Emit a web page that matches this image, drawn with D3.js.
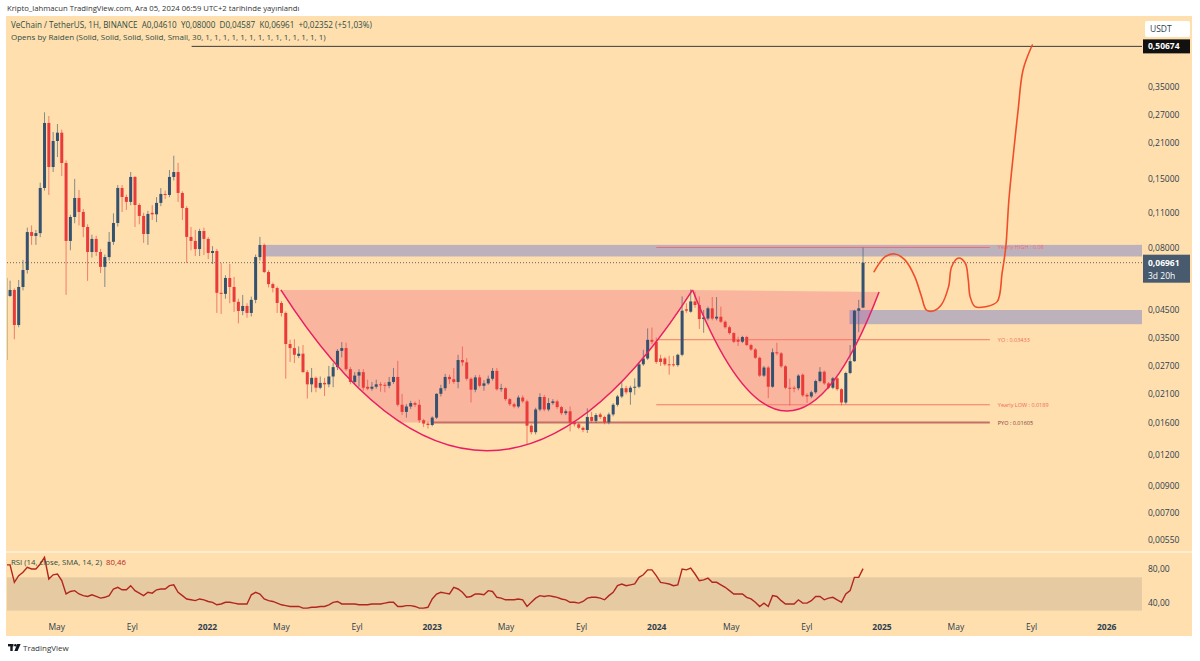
<!DOCTYPE html>
<html>
<head>
<meta charset="utf-8">
<script src="https://cdn.jsdelivr.net/npm/d3@7"></script>
<style>
  body { margin: 0; background: #fff; }
  svg { display: block; font-family: "Open Sans", "DejaVu Sans", sans-serif; }
</style>
</head>
<body>
<svg id="chart" width="1200" height="661"></svg>
<script>
// weekly VET/USDT candles, first bar = week of 2021-02-08
const firstWeek = "2021-02-08"

const opens = [.0285,.0513,.0542,.0393,.0557,.0651,.0922,.0890,.0913,.1382,
.2509,.1675,.2127,.2295,.1738,.0850,.1059,.1261,.1109,.0966,
.0768,.0866,.0768,.0670,.0733,.0843,.1002,.1382,.1272,.1216,
.1529,.1182,.1069,.0906,.1100,.1085,.1205,.1308,.1296,.1529,
.1600,.1320,.1150,.0882,.0850,.0789,.0931,.0866,.0761,.0775,
.0528,.0523,.0605,.0557,.0486,.0447,.0468,.0439,.0495,.0733,
.0819,.0639,.0572,.0552,.0481,.0439,.0330,.0318,.0296,.0302,
.0255,.0228,.0242,.0221,.0231,.0228,.0245,.0267,.0310,.0318,
.0262,.0233,.0247,.0255,.0223,.0219,.0223,.0228,.0227,.0225,
.0233,.0244,.0189,.0177,.0186,.0192,.0189,.0164,.0159,.0157,
.0168,.0209,.0220,.0244,.0239,.0233,.0285,.0279,.0240,.0217,
.0243,.0225,.0230,.0240,.0258,.0218,.0220,.0199,.0190,.0186,
.0202,.0195,.0156,.0147,.0181,.0203,.0181,.0192,.0195,.0185,
.0175,.0178,.0161,.0158,.0153,.0150,.0169,.0163,.0173,.0169,
.0161,.0173,.0189,.0204,.0220,.0212,.0221,.0223,.0274,.0289,
.0343,.0337,.0289,.0289,.0274,.0274,.0272,.0299,.0454,.0444,
.0488,.0472,.0415,.0417,.0458,.0417,.0424,.0405,.0385,.0365,
.0343,.0337,.0352,.0327,.0314,.0291,.0247,.0266,.0223,.0306,
.0303,.0269,.0221,.0221,.0220,.0249,.0207,.0204,.0212,.0235,
.0256,.0230,.0221,.0241,.0218,.0193,.0253,.0282,.0448,.0461]

const highs = [.0620,.0590,.0550,.0594,.0714,.0960,.0980,.0940,.1450,.2767,
.2674,.2310,.2485,.2360,.1780,.1080,.1502,.1357,.1140,.0990,
.0900,.0890,.0790,.0750,.0922,.1095,.1420,.1420,.1300,.1600,
.1540,.1200,.1100,.1120,.1180,.1270,.1380,.1350,.1630,.1858,
.1740,.1340,.1170,.0966,.0940,.0950,.0960,.0880,.0810,.0790,
.0694,.0620,.0688,.0611,.0500,.0518,.0480,.0510,.0750,.0882,
.0830,.0650,.0580,.0560,.0490,.0445,.0343,.0345,.0323,.0327,
.0260,.0265,.0245,.0245,.0242,.0270,.0277,.0315,.0336,.0334,
.0267,.0255,.0262,.0262,.0238,.0233,.0238,.0233,.0232,.0244,
.0265,.0283,.0209,.0190,.0196,.0195,.0198,.0166,.0162,.0170,
.0210,.0227,.0251,.0249,.0265,.0299,.0323,.0290,.0243,.0248,
.0249,.0237,.0247,.0265,.0265,.0229,.0222,.0201,.0193,.0206,
.0206,.0198,.0158,.0184,.0210,.0207,.0201,.0199,.0198,.0187,
.0181,.0186,.0163,.0160,.0155,.0183,.0177,.0175,.0176,.0171,
.0176,.0192,.0207,.0233,.0225,.0225,.0241,.0278,.0313,.0381,
.0384,.0350,.0299,.0293,.0296,.0296,.0302,.0511,.0480,.0545,
.0533,.0511,.0451,.0465,.0508,.0508,.0465,.0410,.0390,.0368,
.0353,.0356,.0356,.0331,.0318,.0294,.0270,.0270,.0317,.0334,
.0307,.0272,.0240,.0225,.0250,.0252,.0210,.0215,.0238,.0267,
.0259,.0233,.0244,.0244,.0220,.0256,.0327,.0452,.0495,.0800]

const lows = [.0280,.0509,.0345,.0385,.0540,.0630,.0820,.0820,.0880,.1350,
.1296,.1600,.1835,.1543,.0518,.0780,.1000,.0980,.0880,.0589,
.0730,.0740,.0633,.0557,.0710,.0820,.0970,.1109,.1130,.1180,
.0966,.0990,.0835,.0820,.1030,.1010,.1170,.1250,.1270,.1480,
.1216,.1030,.0694,.0780,.0740,.0740,.0747,.0720,.0688,.0439,
.0435,.0500,.0480,.0443,.0399,.0430,.0420,.0425,.0480,.0710,
.0633,.0555,.0530,.0439,.0425,.0240,.0280,.0277,.0290,.0254,
.0200,.0212,.0212,.0218,.0205,.0222,.0222,.0260,.0292,.0258,
.0228,.0228,.0223,.0215,.0216,.0215,.0219,.0213,.0212,.0220,
.0229,.0186,.0172,.0168,.0182,.0185,.0160,.0154,.0152,.0155,
.0166,.0204,.0215,.0229,.0229,.0220,.0270,.0236,.0193,.0212,
.0222,.0215,.0227,.0236,.0215,.0213,.0196,.0187,.0183,.0183,
.0192,.0131,.0144,.0144,.0178,.0178,.0178,.0189,.0182,.0172,
.0172,.0148,.0155,.0151,.0147,.0146,.0160,.0160,.0166,.0158,
.0158,.0170,.0186,.0201,.0208,.0189,.0207,.0220,.0270,.0285,
.0330,.0275,.0270,.0270,.0249,.0268,.0268,.0295,.0440,.0440,
.0460,.0379,.0366,.0410,.0410,.0410,.0400,.0380,.0360,.0333,
.0324,.0333,.0324,.0310,.0288,.0244,.0244,.0201,.0221,.0298,
.0265,.0218,.0188,.0212,.0216,.0203,.0192,.0201,.0209,.0232,
.0227,.0218,.0218,.0215,.0188,.0190,.0250,.0280,.0368,.04587]

const closes = [.0605,.0542,.0393,.0557,.0651,.0922,.0890,.0913,.1382,.2509,
.1675,.2127,.2295,.1738,.0850,.1059,.1261,.1109,.0966,.0768,
.0866,.0768,.0670,.0733,.0843,.1002,.1382,.1272,.1216,.1529,
.1182,.1069,.0906,.1089,.1085,.1205,.1308,.1296,.1529,.1600,
.1320,.1150,.0882,.0850,.0789,.0931,.0866,.0761,.0775,.0528,
.0523,.0605,.0557,.0486,.0447,.0468,.0439,.0495,.0733,.0819,
.0639,.0572,.0552,.0481,.0439,.0330,.0318,.0299,.0302,.0255,
.0228,.0242,.0221,.0231,.0228,.0245,.0267,.0310,.0318,.0262,
.0233,.0247,.0255,.0221,.0219,.0223,.0228,.0226,.0225,.0233,
.0244,.0189,.0177,.0186,.0192,.0189,.0164,.0159,.0157,.0168,
.0209,.0220,.0244,.0239,.0233,.0285,.0279,.0240,.0217,.0243,
.0225,.0230,.0240,.0258,.0218,.0220,.0199,.0190,.0186,.0202,
.0195,.0156,.0147,.0181,.0203,.0181,.0192,.0195,.0185,.0175,
.0178,.0161,.0158,.0153,.0150,.0169,.0163,.0172,.0169,.0161,
.0173,.0189,.0204,.0220,.0212,.0221,.0223,.0274,.0289,.0343,
.0337,.0280,.0280,.0274,.0272,.0272,.0299,.0448,.0448,.0488,
.0472,.0415,.0421,.0458,.0417,.0424,.0405,.0385,.0365,.0337,
.0337,.0352,.0327,.0314,.0291,.0247,.0266,.0223,.0306,.0303,
.0269,.0221,.0220,.0220,.0247,.0206,.0204,.0212,.0235,.0256,
.0230,.0221,.0241,.0218,.0193,.0253,.0282,.0448,.0458,.06961]

const rsiValues = [85,85,64,72,76,82,80,80,86,94,
68,73,74,66,50,53,54,50,48,47,
49,47,45,46,48,56,58,55,55,60,
54,51,48,52,51,55,56,56,60,61,
52,48,44,43,42,44,43,41,40,37,
38,40,40,39,38,38,38,49,52,50,
44,42,41,39,37,36,35,35,35,33,
33,34,34,35,35,37,40,41,38,38,
38,38,37,37,37,38,38,38,39,40,
40,35,35,36,36,35,33,33,34,44,
50,52,51,50,58,56,52,46,47,50,
50,49,54,53,46,45,43,43,43,44,
43,35,40,45,48,47,48,47,46,44,
43,40,40,39,41,45,46,46,45,43,
48,52,60,62,60,61,62,70,73,79,
79,72,64,63,62,60,61,80,79,81,
74,66,67,69,64,64,61,58,54,50,
50,50,46,44,40,35,39,35,48,47,
42,38,38,38,43,39,39,42,47,47,
43,45,46,43,40,50,54,70,70,80.46]

// axis ticks
const priceTicks = [0.35, 0.27, 0.21, 0.15, 0.11, 0.08, 0.045, 0.035, 0.027, 0.021, 0.016, 0.012, 0.009, 0.007, 0.0055]
const rsiTicks = [80, 40]
const timeTicks = ["2021-05-01","2021-09-01","2022-01-01","2022-05-01","2022-09-01","2023-01-01","2023-05-01","2023-09-01","2024-01-01","2024-05-01","2024-09-01","2025-01-01","2025-05-01","2025-09-01","2026-01-01"]
const timeLabels = ["May","Eyl","2022","May","Eyl","2023","May","Eyl","2024","May","Eyl","2025","May","Eyl","2026"]

// yearly level lines (indicator "Opens by Raiden")
const levelNames = ["Yearly HIGH : 0.08", "YO : 0.03433", "Yearly LOW : 0.0189", "PYO : 0.01605"]
const levelPrices = [0.08, 0.03433, 0.0189, 0.01605]
const levelStarts = ["2024-01-01", "2024-01-01", "2024-01-01", "2023-01-01"]
const levelEnd = "2025-06-26"

// drawn zones
const zoneStarts = ["2022-04-04", "2024-11-10"]
const zoneTops = [0.0820, 0.0451]
const zoneBottoms = [0.0737, 0.0396]

// cup arcs: [start, bottom, end] dates and rim/bottom prices
const cupDates = [["2022-05-01", "2023-04-01", "2024-02-29"], ["2024-02-29", "2024-07-31", "2024-12-28"]]
const cupPrices = [[0.0542, 0.01239, 0.0542], [0.0542, 0.01784, 0.0532]]

// hand drawn projection
const sketchDates = ["2024-12-20","2025-01-07","2025-01-23","2025-02-08","2025-02-24","2025-03-07","2025-03-15","2025-03-26","2025-04-08","2025-04-20","2025-04-25","2025-05-06","2025-05-17","2025-05-22","2025-05-25","2025-06-02","2025-06-19","2025-07-08","2025-07-16","2025-07-22","2025-07-27","2025-08-04","2025-08-11","2025-08-19","2025-09-03"]
const sketchPrices = [0.0641,0.0736,0.0754,0.0714,0.0613,0.0510,0.0451,0.0447,0.0472,0.0559,0.0671,0.0727,0.0694,0.0594,0.0510,0.0465,0.0465,0.0487,0.0634,0.0806,0.1238,0.1958,0.2826,0.408,0.513]

const targetPrice = 0.50674
const targetStart = "2021-12-07"
const lastPrice = 0.06961

// ---- layout
const plot = {left: 7, right: 1142, top: 16, bottom: 552}
const rsiPane = {top: 552, bottom: 615}
const bg = "#ffdfae"
const upColor = "#34526f"
const downColor = "#ea3b3b"
const axisColor = "#2c3e50"

const parseDate = d3.utcParse("%Y-%m-%d")

const x = d3.scaleUtc()
    .domain([parseDate("2022-01-01"), parseDate("2025-01-01")])
    .range([207, 881.5])
const y = d3.scaleLog().domain([0.35, 0.0055]).range([86.7, 539.3])
const yRsi = d3.scaleLinear().domain([80, 40]).range([569, 602.3])

const start = parseDate(firstWeek)
const candles = opens.map((o, i) => ({
    date: d3.utcDay.offset(start, i * 7),
    open: o, high: highs[i], low: lows[i], close: closes[i], rsi: rsiValues[i]
}))

const svg = d3.select("#chart")

// panel background
svg.append("rect")
    .attr("x", 6).attr("y", 16)
    .attr("width", 1186).attr("height", 620)
    .attr("fill", bg)

const defs = svg.append("defs")
defs.append("clipPath").attr("id", "priceClip").append("rect")
    .attr("x", plot.left).attr("y", plot.top)
    .attr("width", plot.right - plot.left).attr("height", plot.bottom - plot.top)
defs.append("clipPath").attr("id", "rsiClip").append("rect")
    .attr("x", plot.left).attr("y", rsiPane.top)
    .attr("width", plot.right - plot.left).attr("height", rsiPane.bottom - rsiPane.top)
defs.append("clipPath").attr("id", "cupClip").append("rect")
    .attr("x", plot.left).attr("y", plot.top)
    .attr("width", plot.right - plot.left).attr("height", y(levelPrices[3]) - plot.top)

const price = svg.append("g").attr("clip-path", "url(#priceClip)")

// cup arc as quadratic bezier with vertex at the bottom point
const cupPath = (dates, prices, close) => {
    const x0 = x(parseDate(dates[0])), y0 = y(prices[0])
    const xv = x(parseDate(dates[1])), yv = y(prices[1])
    const x2 = x(parseDate(dates[2])), y2 = y(prices[2])
    const cy = 2 * yv - (y0 + y2) / 2
    const cx = 2 * xv - (x0 + x2) / 2
    return `M${x0},${y0} Q${cx},${cy} ${x2},${y2}` + (close ? " Z" : "")
}

price.append("g").attr("clip-path", "url(#cupClip)")
    .selectAll("path")
    .data(cupDates)
    .join("path")
    .attr("d", (d, i) => cupPath(d, cupPrices[i], true))
    .attr("fill", "#e91e63")
    .attr("fill-opacity", 0.21)

// zones
price.selectAll("rect.zone")
    .data(zoneStarts)
    .join("rect")
    .attr("class", "zone")
    .attr("x", d => x(parseDate(d)))
    .attr("y", (d, i) => y(zoneTops[i]))
    .attr("width", d => plot.right - x(parseDate(d)))
    .attr("height", (d, i) => y(zoneBottoms[i]) - y(zoneTops[i]))
    .attr("fill", "#3d5bd9")
    .attr("fill-opacity", 0.34)

// level lines
const levelColors = ["#f06a7a", "#f3786a", "#f3786a", "#c27068"]
const levelText = ["#f06a7a", "#f06a5a", "#f06a5a", "#7d3b3b"]
price.selectAll("line.level")
    .data(levelPrices)
    .join("line")
    .attr("class", "level")
    .attr("x1", (d, i) => x(parseDate(levelStarts[i])))
    .attr("x2", x(parseDate(levelEnd)))
    .attr("y1", d => y(d)).attr("y2", d => y(d))
    .attr("stroke", (d, i) => levelColors[i])
    .attr("stroke-width", (d, i) => i === 3 ? 2 : 1)

price.selectAll("text.level")
    .data(levelPrices)
    .join("text")
    .attr("class", "level")
    .attr("x", x(parseDate(levelEnd)) + 8)
    .attr("y", d => y(d))
    .attr("dy", "0.35em")
    .attr("font-size", 5.5)
    .attr("fill", (d, i) => levelText[i])
    .text((d, i) => levelNames[i])

// last price dotted line
price.append("line")
    .attr("x1", plot.left).attr("x2", plot.right)
    .attr("y1", y(lastPrice)).attr("y2", y(lastPrice))
    .attr("stroke", "#666").attr("stroke-width", 1)
    .attr("stroke-dasharray", "1,2")

// target line
price.append("line")
    .attr("x1", x(parseDate(targetStart))).attr("x2", plot.right)
    .attr("y1", y(targetPrice)).attr("y2", y(targetPrice))
    .attr("stroke", "#3a3a3a").attr("stroke-width", 1)

// candles
const bars = price.append("g")
bars.selectAll("line")
    .data(candles)
    .join("line")
    .attr("x1", d => x(d.date)).attr("x2", d => x(d.date))
    .attr("y1", d => y(d.high)).attr("y2", d => y(d.low))
    .attr("stroke", d => d.close >= d.open ? upColor : downColor)
    .attr("stroke-opacity", 0.6)
    .attr("stroke-width", 1)

bars.selectAll("rect")
    .data(candles)
    .join("rect")
    .attr("x", d => x(d.date) - 1.5)
    .attr("y", d => y(Math.max(d.open, d.close)))
    .attr("width", 3)
    .attr("height", d => Math.max(1, Math.abs(y(d.open) - y(d.close))))
    .attr("fill", d => d.close >= d.open ? upColor : downColor)

// cup outlines
price.selectAll("path.cup")
    .data(cupDates)
    .join("path")
    .attr("class", "cup")
    .attr("d", (d, i) => cupPath(d, cupPrices[i], false))
    .attr("fill", "none")
    .attr("stroke", "#e91e63")
    .attr("stroke-width", 1.5)

// projection sketch
const sketchLine = d3.line()
    .curve(d3.curveCatmullRom)
    .x((d, i) => x(parseDate(d)))
    .y((d, i) => y(sketchPrices[i]))

price.append("path")
    .attr("d", sketchLine(sketchDates))
    .attr("fill", "none")
    .attr("stroke", "#f04e2a")
    .attr("stroke-width", 1.6)
    .attr("stroke-linejoin", "round")
    .attr("stroke-linecap", "round")

// pane separator
svg.append("line")
    .attr("x1", 6).attr("x2", 1192)
    .attr("y1", plot.bottom).attr("y2", plot.bottom)
    .attr("stroke", "#fff1dc").attr("stroke-width", 1.5)

// RSI pane
const rsi = svg.append("g").attr("clip-path", "url(#rsiClip)")
rsi.append("rect")
    .attr("x", plot.left).attr("width", plot.right - plot.left)
    .attr("y", yRsi(70)).attr("height", yRsi(30) - yRsi(70))
    .attr("fill", "#e5caa2")

const rsiLine = d3.line()
    .x(d => x(d.date))
    .y(d => yRsi(d.rsi))

rsi.append("path")
    .attr("d", rsiLine(candles))
    .attr("fill", "none")
    .attr("stroke", "#b3261e")
    .attr("stroke-width", 1.4)

// axes
const fmtPrice = d => d.toFixed(5).replace(".", ",")

const yAxis = d3.axisRight(y).tickValues(priceTicks).tickFormat(fmtPrice).tickSize(0).tickPadding(6)
const rsiAxis = d3.axisRight(yRsi).tickValues(rsiTicks).tickFormat(d => d.toFixed(2).replace(".", ",")).tickSize(0).tickPadding(6)
const xAxis = d3.axisBottom(x)
    .tickValues(timeTicks.map(parseDate))
    .tickFormat((d, i) => timeLabels[i])
    .tickSize(0).tickPadding(9)

const styleAxis = g => {
    g.select(".domain").remove()
    g.selectAll("text").attr("fill", axisColor).attr("font-size", 8.5)
        .attr("font-family", "\"Open Sans\", sans-serif")
}

svg.append("g").attr("transform", `translate(${plot.right},0)`).call(yAxis).call(styleAxis)
svg.append("g").attr("transform", `translate(${plot.right},0)`).call(rsiAxis).call(styleAxis)
svg.append("g").attr("transform", `translate(0,${rsiPane.bottom})`).call(xAxis).call(styleAxis)
    .selectAll("text")
    .attr("font-weight", (d, i) => /^\d+$/.test(timeLabels[i]) ? "bold" : "normal")

// axis price badges
svg.append("rect").attr("x", 1145).attr("y", 21).attr("width", 45).attr("height", 16).attr("rx", 2).attr("fill", "#fff")
svg.append("text").attr("x", 1150).attr("y", 32).attr("font-size", 8.5).attr("fill", axisColor).text("USDT")

svg.append("rect").attr("x", 1143).attr("y", y(targetPrice) - 7).attr("width", 47).attr("height", 14).attr("fill", "#111")
svg.append("text").attr("x", 1148).attr("y", y(targetPrice)).attr("dy", "0.35em")
    .attr("font-size", 8.5).attr("font-weight", "bold").attr("fill", "#fff").text(fmtPrice(targetPrice))

svg.append("rect").attr("x", 1143).attr("y", y(lastPrice) - 8).attr("width", 47).attr("height", 28).attr("fill", "#475a6e")
svg.append("text").attr("x", 1148).attr("y", y(lastPrice)).attr("dy", "0.35em")
    .attr("font-size", 8.5).attr("font-weight", "bold").attr("fill", "#fff").text(fmtPrice(lastPrice))
svg.append("text").attr("x", 1148).attr("y", y(lastPrice) + 13).attr("dy", "0.35em")
    .attr("font-size", 8.5).attr("fill", "#fff").text("3d 20h")

// legends
const legendColor = "#2e4d45"
svg.append("text").attr("x", 7).attr("y", 11).attr("font-size", 7.7).attr("fill", "#333")
    .text("Kripto_lahmacun TradingView.com, Ara 05, 2024 06:59 UTC+2 tarihinde yayınlandı")
svg.append("text").attr("x", 11).attr("y", 28).attr("font-size", 8.1).attr("fill", legendColor)
    .attr("xml:space", "preserve")
    .text("VeChain / TetherUS, 1H, BINANCE  A0,04610  Y0,08000  D0,04587  K0,06961  +0,02352 (+51,03%)")
svg.append("text").attr("x", 11).attr("y", 40).attr("font-size", 8).attr("fill", legendColor)
    .text("Opens by Raiden (Solid, Solid, Solid, Solid, Small, 30, 1, 1, 1, 1, 1, 1, 1, 1, 1, 1, 1, 1, 1, 1)")

const rsiLabel = svg.append("text").attr("x", 11).attr("y", 565).attr("font-size", 7.8).attr("fill", legendColor)
    .attr("xml:space", "preserve")
rsiLabel.append("tspan").text("RSI (14, close, SMA, 14, 2)  ")
rsiLabel.append("tspan").attr("fill", "#b3261e").text("80,46")

// footer logo
const logo = svg.append("g").attr("fill", "#131722")
logo.append("rect").attr("x", 8).attr("y", 644).attr("width", 5.5).attr("height", 2.4)
logo.append("rect").attr("x", 10.3).attr("y", 644).attr("width", 2.4).attr("height", 7)
logo.append("circle").attr("cx", 15.4).attr("cy", 645.3).attr("r", 1.3)
logo.append("path").attr("d", "M17.2,644 L20.6,644 L17.6,651 L14.4,651 Z")
svg.append("text").attr("x", 23).attr("y", 651).attr("font-size", 8).attr("fill", "#333").text("TradingView")
</script>
</body>
</html>
